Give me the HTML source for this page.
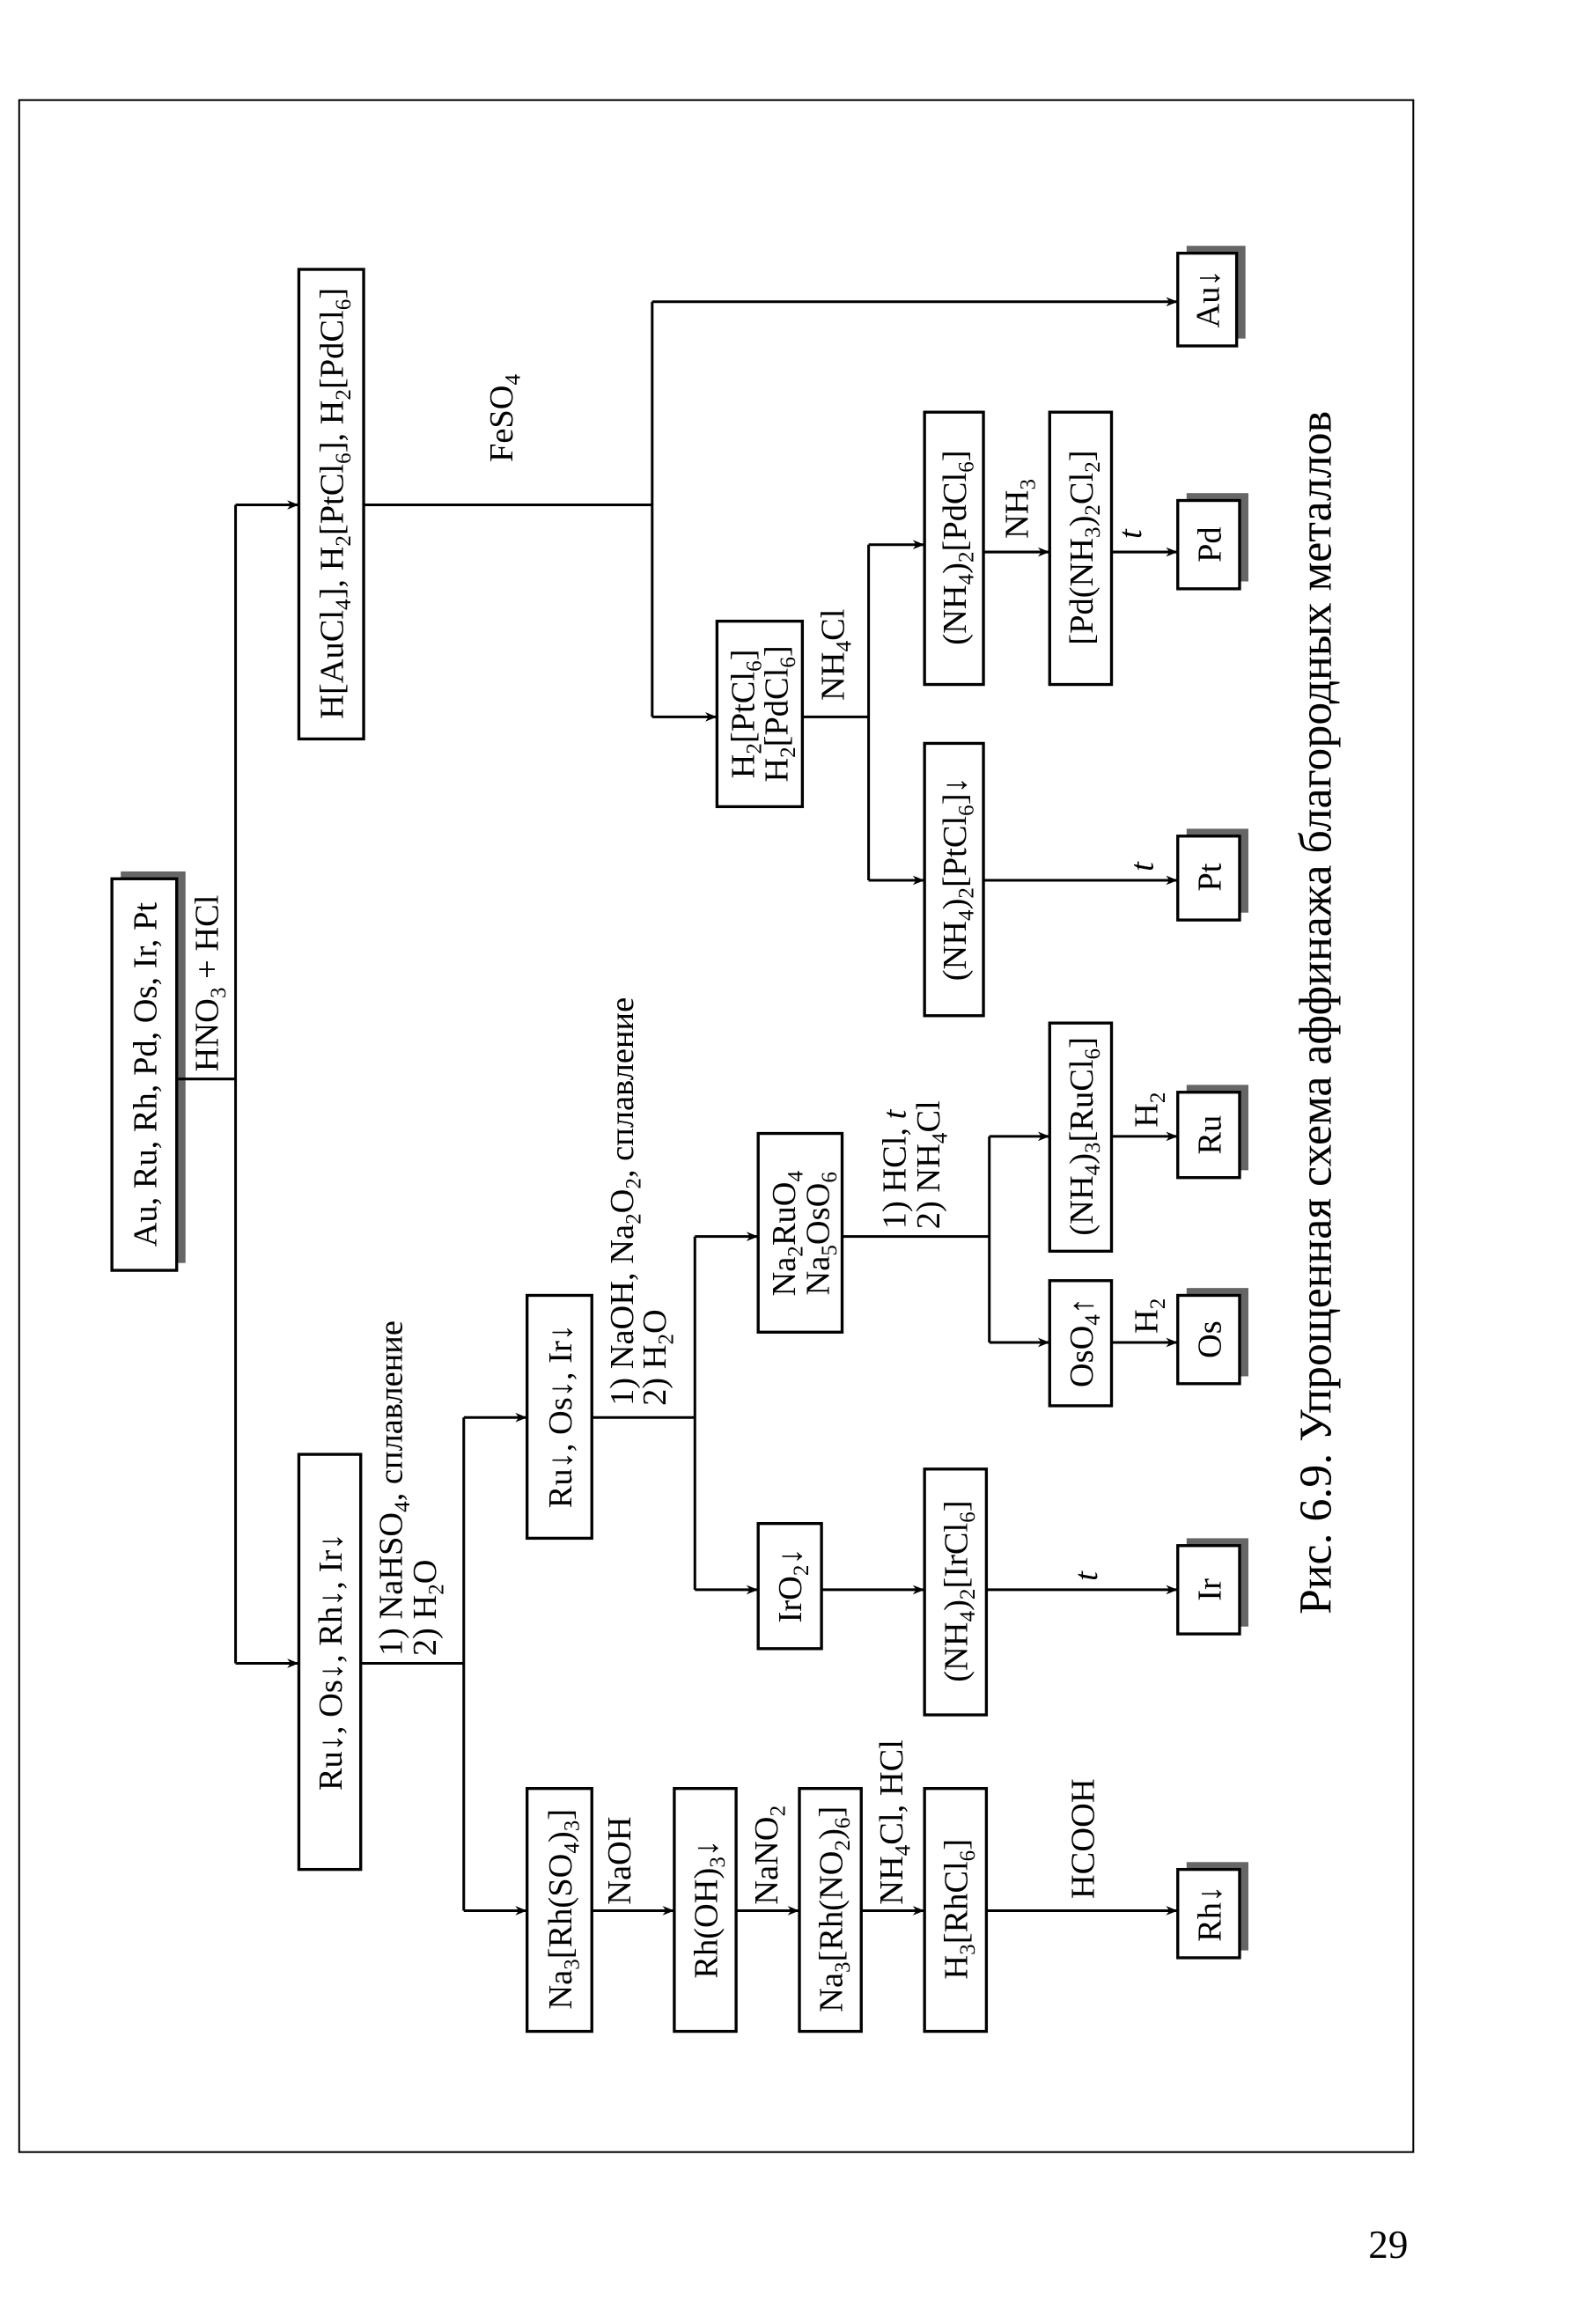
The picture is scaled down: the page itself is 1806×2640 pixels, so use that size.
<!DOCTYPE html>
<html><head><meta charset="utf-8"><style>
html,body{margin:0;padding:0;background:#fff}
svg{display:block}
text{font-family:"Liberation Serif",serif;fill:#000}
</style></head><body>
<svg width="1806" height="2640" viewBox="0 0 1080 1578.8" xmlns="http://www.w3.org/2000/svg">
<defs>
<marker id="a" viewBox="0 0 10 10" refX="10" refY="5" markerWidth="11" markerHeight="8" markerUnits="userSpaceOnUse" orient="auto">
<path d="M0,1 L10,5 L0,9 L3,5 Z" fill="#000"/></marker>
</defs>
<rect x="13" y="68" width="947" height="1394" fill="none" stroke="#000" stroke-width="1.2"/>
<g fill="#666">
<rect x="82" y="592" width="44" height="266"/>
<rect x="806" y="167" width="40" height="63"/>
<rect x="806" y="335" width="42" height="60"/>
<rect x="806" y="563" width="42" height="57"/>
<rect x="806" y="737" width="42" height="58"/>
<rect x="806" y="875" width="42" height="60"/>
<rect x="806" y="1045" width="42" height="60"/>
<rect x="806" y="1265" width="42" height="60"/>
</g>
<g fill="#fff" stroke="#000" stroke-width="2">
<rect x="76" y="597" width="44" height="266"/>
<rect x="203" y="183" width="44" height="319"/>
<rect x="203" y="988" width="42" height="282"/>
<rect x="800" y="172" width="40" height="63"/>
<rect x="487" y="422" width="58" height="126"/>
<rect x="628" y="280" width="40" height="185"/>
<rect x="713" y="280" width="42" height="185"/>
<rect x="800" y="340" width="42" height="60"/>
<rect x="628" y="505" width="40" height="185"/>
<rect x="800" y="568" width="42" height="57"/>
<rect x="358" y="880" width="44" height="165"/>
<rect x="515" y="770" width="57" height="135"/>
<rect x="515" y="1035" width="43" height="85"/>
<rect x="628" y="998" width="42" height="167"/>
<rect x="800" y="1050" width="42" height="60"/>
<rect x="713" y="695" width="42" height="155"/>
<rect x="800" y="742" width="42" height="58"/>
<rect x="713" y="870" width="42" height="85"/>
<rect x="800" y="880" width="42" height="60"/>
<rect x="358" y="1215" width="44" height="165"/>
<rect x="458" y="1215" width="42" height="165"/>
<rect x="543" y="1215" width="42" height="165"/>
<rect x="628" y="1215" width="42" height="165"/>
<rect x="800" y="1270" width="42" height="60"/>
</g>
<g stroke="#000" stroke-width="1.8" fill="none">
<path d="M120,733 H160 M160,343 V1130 M247,343 H443 M443,205 V487 M545,487 H590 M590,370 V598 M245,1130 H315 M315,963 V1298 M402,963 H472 M472,840 V1080 M572,840 H672 M672,772 V912"/>
</g>
<g stroke="#000" stroke-width="1.8" marker-end="url(#a)">
<line x1="160" y1="343" x2="203" y2="343"/>
<line x1="160" y1="1130" x2="203" y2="1130"/>
<line x1="443" y1="205" x2="800" y2="205"/>
<line x1="443" y1="487" x2="487" y2="487"/>
<line x1="590" y1="370" x2="628" y2="370"/>
<line x1="590" y1="598" x2="628" y2="598"/>
<line x1="668" y1="375" x2="713" y2="375"/>
<line x1="755" y1="375" x2="800" y2="375"/>
<line x1="668" y1="598" x2="800" y2="598"/>
<line x1="315" y1="963" x2="358" y2="963"/>
<line x1="315" y1="1298" x2="358" y2="1298"/>
<line x1="472" y1="840" x2="515" y2="840"/>
<line x1="472" y1="1080" x2="515" y2="1080"/>
<line x1="558" y1="1080" x2="628" y2="1080"/>
<line x1="670" y1="1080" x2="800" y2="1080"/>
<line x1="672" y1="772" x2="713" y2="772"/>
<line x1="672" y1="912" x2="713" y2="912"/>
<line x1="755" y1="772" x2="800" y2="772"/>
<line x1="755" y1="912" x2="800" y2="912"/>
<line x1="402" y1="1298" x2="458" y2="1298"/>
<line x1="500" y1="1298" x2="543" y2="1298"/>
<line x1="585" y1="1298" x2="628" y2="1298"/>
<line x1="670" y1="1298" x2="800" y2="1298"/>
</g>
<g font-size="23" text-anchor="middle">
<text transform="translate(98,730) rotate(-90)" dy="0.35em">Au, Ru, Rh, Pd, Os, Ir, Pt</text>
<text transform="translate(225,342) rotate(-90)" dy="0.35em">H[AuCl<tspan font-size="15" dy="5">4</tspan><tspan dy="-5">], H</tspan><tspan font-size="15" dy="5">2</tspan><tspan dy="-5">[PtCl</tspan><tspan font-size="15" dy="5">6</tspan><tspan dy="-5">], H</tspan><tspan font-size="15" dy="5">2</tspan><tspan dy="-5">[PdCl</tspan><tspan font-size="15" dy="5">6</tspan><tspan dy="-5">]</tspan></text>
<text transform="translate(224,1129) rotate(-90)" dy="0.35em">Ru↓, Os↓, Rh↓, Ir↓</text>
<text transform="translate(820,203) rotate(-90)" dy="0.35em">Au↓</text>
<text transform="translate(504,485) rotate(-90)" dy="0.35em">H<tspan font-size="15" dy="5">2</tspan><tspan dy="-5">[PtCl</tspan><tspan font-size="15" dy="5">6</tspan><tspan dy="-5">]</tspan></text>
<text transform="translate(527,485) rotate(-90)" dy="0.35em">H<tspan font-size="15" dy="5">2</tspan><tspan dy="-5">[PdCl</tspan><tspan font-size="15" dy="5">6</tspan><tspan dy="-5">]</tspan></text>
<text transform="translate(648,372) rotate(-90)" dy="0.35em">(NH<tspan font-size="15" dy="5">4</tspan><tspan dy="-5">)</tspan><tspan font-size="15" dy="5">2</tspan><tspan dy="-5">[PdCl</tspan><tspan font-size="15" dy="5">6</tspan><tspan dy="-5">]</tspan></text>
<text transform="translate(734,372) rotate(-90)" dy="0.35em">[Pd(NH<tspan font-size="15" dy="5">3</tspan><tspan dy="-5">)</tspan><tspan font-size="15" dy="5">2</tspan><tspan dy="-5">Cl</tspan><tspan font-size="15" dy="5">2</tspan><tspan dy="-5">]</tspan></text>
<text transform="translate(821,370) rotate(-90)" dy="0.35em">Pd</text>
<text transform="translate(648,597) rotate(-90)" dy="0.35em">(NH<tspan font-size="15" dy="5">4</tspan><tspan dy="-5">)</tspan><tspan font-size="15" dy="5">2</tspan><tspan dy="-5">[PtCl</tspan><tspan font-size="15" dy="5">6</tspan><tspan dy="-5">]↓</tspan></text>
<text transform="translate(821,596) rotate(-90)" dy="0.35em">Pt</text>
<text transform="translate(380,962) rotate(-90)" dy="0.35em">Ru↓, Os↓, Ir↓</text>
<text transform="translate(532,838) rotate(-90)" dy="0.35em">Na<tspan font-size="15" dy="5">2</tspan><tspan dy="-5">RuO</tspan><tspan font-size="15" dy="5">4</tspan></text>
<text transform="translate(555,838) rotate(-90)" dy="0.35em">Na<tspan font-size="15" dy="5">5</tspan><tspan dy="-5">OsO</tspan><tspan font-size="15" dy="5">6</tspan></text>
<text transform="translate(536,1077) rotate(-90)" dy="0.35em">IrO<tspan font-size="15" dy="5">2</tspan><tspan dy="-5">↓</tspan></text>
<text transform="translate(649,1081) rotate(-90)" dy="0.35em">(NH<tspan font-size="15" dy="5">4</tspan><tspan dy="-5">)</tspan><tspan font-size="15" dy="5">2</tspan><tspan dy="-5">[IrCl</tspan><tspan font-size="15" dy="5">6</tspan><tspan dy="-5">]</tspan></text>
<text transform="translate(821,1080) rotate(-90)" dy="0.35em">Ir</text>
<text transform="translate(734,772) rotate(-90)" dy="0.35em">(NH<tspan font-size="15" dy="5">4</tspan><tspan dy="-5">)</tspan><tspan font-size="15" dy="5">3</tspan><tspan dy="-5">[RuCl</tspan><tspan font-size="15" dy="5">6</tspan><tspan dy="-5">]</tspan></text>
<text transform="translate(821,771) rotate(-90)" dy="0.35em">Ru</text>
<text transform="translate(734,912) rotate(-90)" dy="0.35em">OsO<tspan font-size="15" dy="5">4</tspan><tspan dy="-5">↑</tspan></text>
<text transform="translate(821,910) rotate(-90)" dy="0.35em">Os</text>
<text transform="translate(380,1297) rotate(-90)" dy="0.35em">Na<tspan font-size="15" dy="5">3</tspan><tspan dy="-5">[Rh(SO</tspan><tspan font-size="15" dy="5">4</tspan><tspan dy="-5">)</tspan><tspan font-size="15" dy="5">3</tspan><tspan dy="-5">]</tspan></text>
<text transform="translate(479,1297) rotate(-90)" dy="0.35em">Rh(OH)<tspan font-size="15" dy="5">3</tspan><tspan dy="-5">↓</tspan></text>
<text transform="translate(564,1297) rotate(-90)" dy="0.35em">Na<tspan font-size="15" dy="5">3</tspan><tspan dy="-5">[Rh(NO</tspan><tspan font-size="15" dy="5">2</tspan><tspan dy="-5">)</tspan><tspan font-size="15" dy="5">6</tspan><tspan dy="-5">]</tspan></text>
<text transform="translate(649,1297) rotate(-90)" dy="0.35em">H<tspan font-size="15" dy="5">3</tspan><tspan dy="-5">[RhCl</tspan><tspan font-size="15" dy="5">6</tspan><tspan dy="-5">]</tspan></text>
<text transform="translate(821,1300) rotate(-90)" dy="0.35em">Rh↓</text>
</g>
<g font-size="23" text-anchor="start">
<text transform="translate(140,728) rotate(-90)" dy="0.35em">HNO<tspan font-size="15" dy="5">3</tspan><tspan dy="-5"> + HCl</tspan></text>
<text transform="translate(340,314) rotate(-90)" dy="0.35em">FeSO<tspan font-size="15" dy="5">4</tspan></text>
<text transform="translate(565,476) rotate(-90)" dy="0.35em">NH<tspan font-size="15" dy="5">4</tspan><tspan dy="-5">Cl</tspan></text>
<text transform="translate(690,366) rotate(-90)" dy="0.35em">NH<tspan font-size="15" dy="5">3</tspan></text>
<text transform="translate(767,366) rotate(-90)" dy="0.35em" font-style="italic">t</text>
<text transform="translate(775,592) rotate(-90)" dy="0.35em" font-style="italic">t</text>
<text transform="translate(737,1074) rotate(-90)" dy="0.35em" font-style="italic">t</text>
<text transform="translate(265,1125) rotate(-90)" dy="0.35em">1) NaHSO<tspan font-size="15" dy="5">4</tspan><tspan dy="-5">, сплавление</tspan></text>
<text transform="translate(288,1125) rotate(-90)" dy="0.35em">2) H<tspan font-size="15" dy="5">2</tspan><tspan dy="-5">O</tspan></text>
<text transform="translate(422,955) rotate(-90)" dy="0.35em">1) NaOH, Na<tspan font-size="15" dy="5">2</tspan><tspan dy="-5">O</tspan><tspan font-size="15" dy="5">2</tspan><tspan dy="-5">, сплавление</tspan></text>
<text transform="translate(444,955) rotate(-90)" dy="0.35em">2) H<tspan font-size="15" dy="5">2</tspan><tspan dy="-5">O</tspan></text>
<text transform="translate(607,835) rotate(-90)" dy="0.35em">1) HCl, <tspan font-style="italic">t</tspan></text>
<text transform="translate(630,835) rotate(-90)" dy="0.35em">2) NH<tspan font-size="15" dy="5">4</tspan><tspan dy="-5">Cl</tspan></text>
<text transform="translate(778,766) rotate(-90)" dy="0.35em">H<tspan font-size="15" dy="5">2</tspan></text>
<text transform="translate(778,906) rotate(-90)" dy="0.35em">H<tspan font-size="15" dy="5">2</tspan></text>
<text transform="translate(420,1294) rotate(-90)" dy="0.35em">NaOH</text>
<text transform="translate(520,1294) rotate(-90)" dy="0.35em">NaNO<tspan font-size="15" dy="5">2</tspan></text>
<text transform="translate(605,1294) rotate(-90)" dy="0.35em">NH<tspan font-size="15" dy="5">4</tspan><tspan dy="-5">Cl, HCl</tspan></text>
<text transform="translate(735,1290) rotate(-90)" dy="0.35em">HCOOH</text>
</g>
<text transform="translate(893,688) rotate(-90)" dy="0.35em" font-size="31" text-anchor="middle">Рис. 6.9. Упрощенная схема аффинажа благородных металлов</text>
<text x="943" y="1534" font-size="27" text-anchor="middle">29</text>
</svg>
</body></html>
